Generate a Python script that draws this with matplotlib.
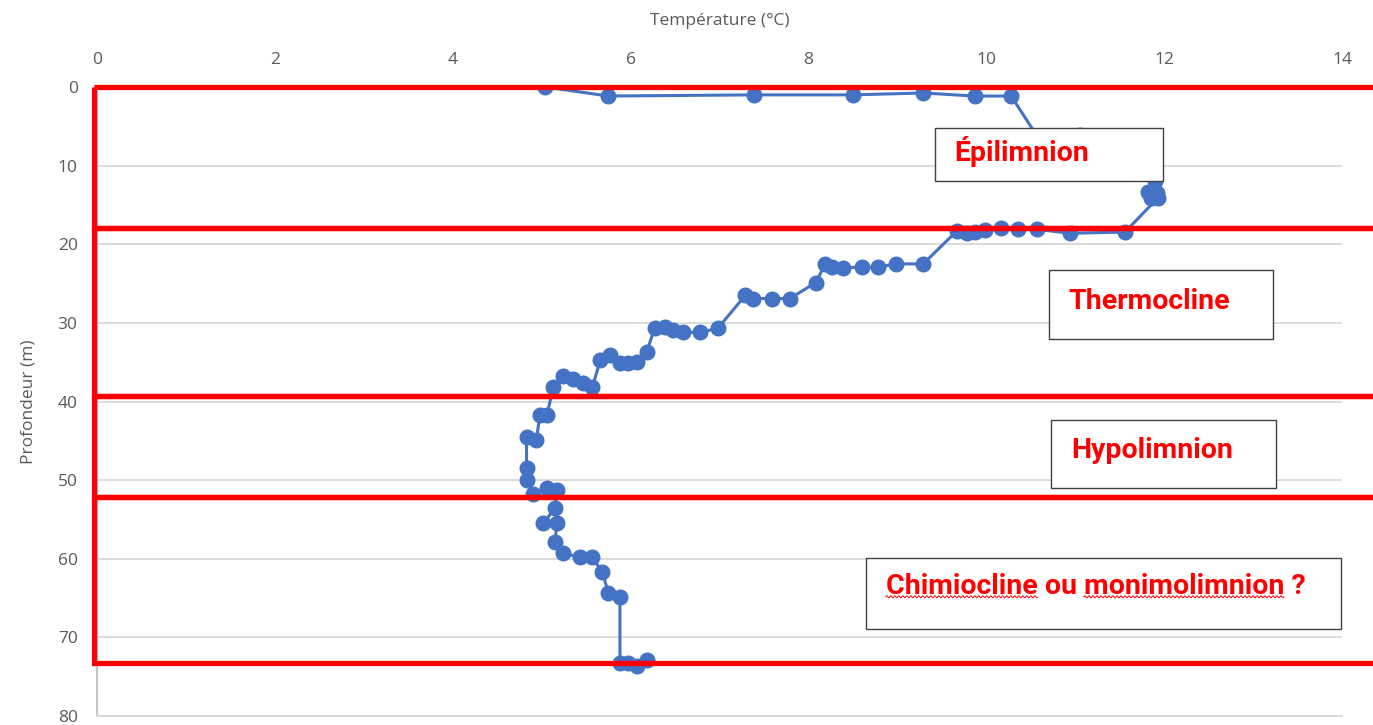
import numpy as np
import matplotlib
matplotlib.use("Agg")
import matplotlib.pyplot as plt
from matplotlib.patches import Rectangle
from matplotlib.lines import Line2D

# ---- data ----
temperature = [5.04, 5.75, 7.39, 8.50, 9.29, 9.87, 10.28, 10.70, 11.05, 11.70, 11.90,
               11.82, 11.92, 11.85, 11.93, 11.56, 10.94, 10.57, 10.36, 10.17, 9.99,
               9.87, 9.78, 9.67, 9.29, 8.99, 8.78, 8.60, 8.39, 8.27, 8.19, 8.08,
               7.79, 7.59, 7.38, 7.29, 6.98, 6.78, 6.59, 6.48, 6.39, 6.27, 6.18,
               6.07, 5.97, 5.88, 5.77, 5.66, 5.57, 5.47, 5.35, 5.24, 5.13, 5.06,
               4.98, 4.94, 4.83, 4.83, 4.83, 4.90, 5.06, 5.17, 5.15, 5.02, 5.17,
               5.15, 5.24, 5.43, 5.57, 5.68, 5.75, 5.88, 5.88, 5.97, 6.07, 6.18]
depth = [0.0, 1.15, 1.0, 1.0, 0.76, 1.15, 1.15, 8.5, 6.1, 9.0, 12.0,
         13.4, 13.5, 14.1, 14.1, 18.45, 18.6, 18.1, 18.0, 17.9, 18.2,
         18.4, 18.6, 18.3, 22.5, 22.5, 22.9, 22.9, 23.0, 22.9, 22.5, 24.9,
         26.9, 26.9, 26.9, 26.5, 30.7, 31.2, 31.2, 30.9, 30.5, 30.7, 33.7,
         35.0, 35.1, 35.1, 34.1, 34.7, 38.2, 37.7, 37.1, 36.7, 38.2, 41.7,
         41.7, 44.9, 44.5, 48.4, 50.0, 51.8, 51.0, 51.3, 53.6, 55.4, 55.4,
         57.9, 59.3, 59.8, 59.8, 61.7, 64.3, 64.9, 73.2, 73.3, 73.6, 72.9]

x_ticks = [0, 2, 4, 6, 8, 10, 12, 14]
y_ticks = [0, 10, 20, 30, 40, 50, 60, 70, 80]

layer_bounds = [0.0, 17.9, 39.3, 52.2, 73.2]
layer_labels = ["Épilimnion", "Thermocline", "Hypolimnion", "Chimiocline ou monimolimnion ?"]
label_boxes = [  # (x0, x1, d_top, d_bottom)
    (9.42, 11.99, 5.2, 12.0),
    (10.70, 13.22, 23.3, 32.1),
    (10.73, 13.26, 42.3, 51.0),
    (8.65, 13.99, 59.9, 68.9),
]

# ---- figure ----
fig = plt.figure(figsize=(13.73, 7.25), dpi=100)
ax = fig.add_axes([0.0707, 0.0124, 0.9067, 0.8676])
ax.set_xlim(0, 14)
ax.set_ylim(80, 0)
ax.set_xticks(x_ticks)
ax.set_yticks(y_ticks)
ax.xaxis.tick_top()
ax.xaxis.set_label_position("top")
tick_color = "#595959"
ax.tick_params(axis="both", length=0, colors=tick_color, labelsize=12.5)
ax.tick_params(axis="x", pad=14)
ax.tick_params(axis="y", pad=14)
for lab in ax.get_xticklabels() + ax.get_yticklabels():
    lab.set_family("Open Sans")
ax.grid(axis="y", color="#d9d9d9", linewidth=1.3)
ax.set_axisbelow(True)
for s in ["top", "right"]:
    ax.spines[s].set_visible(False)
ax.spines["left"].set_color("#bfbfbf")
ax.spines["left"].set_linewidth(1.3)
ax.spines["bottom"].set_color("#d9d9d9")
ax.spines["bottom"].set_linewidth(1.3)

ax.set_xlabel("Température (°C)", family="Open Sans", fontsize=12.5, color=tick_color, labelpad=19)
ax.set_ylabel("Profondeur (m)", family="Open Sans", fontsize=12.5, color=tick_color, labelpad=15)

ax.plot(temperature, depth, color="#4472C4", linewidth=2.2, marker="o",
        markersize=10.5, zorder=3)

# red layer rectangles
for top, bot in zip(layer_bounds[:-1], layer_bounds[1:]):
    ax.add_patch(Rectangle((-0.03, top), 16, bot - top, fill=False,
                           edgecolor="#ff0000", linewidth=3.8, clip_on=False, zorder=5))

# label boxes
FS = 20.5
texts = []
for (x0, x1, dt, db), lab in zip(label_boxes, layer_labels):
    ax.add_patch(Rectangle((x0, dt), x1 - x0, db - dt, facecolor="white",
                           edgecolor="#404040", linewidth=1.0, zorder=6, clip_on=False))
    t = ax.text(x0 + 0.22, dt + (db - dt) * (0.40 if lab.startswith("Chim") else 0.45), lab,
                color="#ff0000", fontsize=FS, fontweight="bold", family="Roboto",
                va="center", ha="left", zorder=7)
    texts.append(t)

# spell-check squiggles under the last label
fig.canvas.draw()
r = fig.canvas.get_renderer()
t = texts[-1]
bb = t.get_window_extent(r)
def word_width(s):
    tmp = ax.text(0, 0, s, fontsize=FS, fontweight="bold", family="Roboto")
    w = tmp.get_window_extent(r).width
    tmp.remove()
    return w
w1 = word_width("Chimiocline")
w2 = word_width("Chimiocline ou ")
w3 = word_width("Chimiocline ou monimolimnion")
inv = fig.transFigure.inverted()
ybase = bb.y0 + 3
for a, b in [(0, w1), (w2, w3)]:
    xs = np.arange(bb.x0 + a, bb.x0 + b, 0.5)
    ys = ybase + 1.0 * np.sin((xs - xs[0]) * 2 * np.pi / 4.0)
    pts = inv.transform(np.column_stack([xs, ys]))
    fig.add_artist(Line2D(pts[:, 0], pts[:, 1], color="#ff0000", linewidth=0.7,
                          transform=fig.transFigure, zorder=8))

fig.savefig("out.png", dpi=100)
